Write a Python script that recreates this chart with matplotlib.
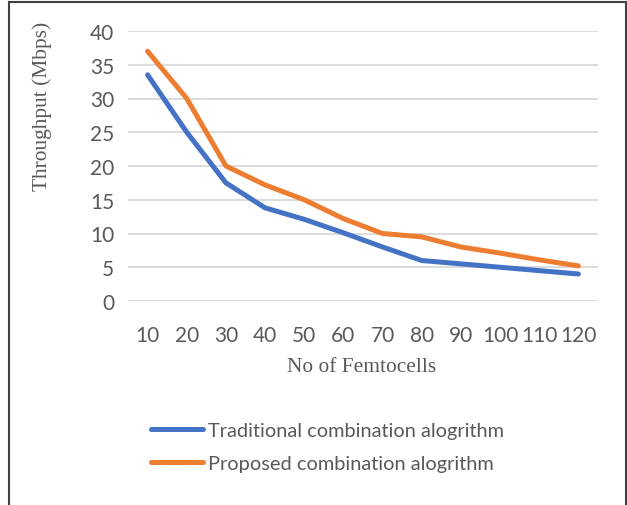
import matplotlib
matplotlib.use("Agg")
import matplotlib.pyplot as plt
from matplotlib.lines import Line2D

categories = ["10", "20", "30", "40", "50", "60", "70", "80", "90", "100", "110", "120"]
traditional = [33.5, 25, 17.5, 13.8, 12.1, 10.1, 8.0, 6.0, 5.5, 5.0, 4.5, 4.0]
proposed = [37.0, 30.0, 20.0, 17.2, 15.0, 12.2, 10.0, 9.5, 8.0, 7.1, 6.1, 5.2]
yticks = [0, 5, 10, 15, 20, 25, 30, 35, 40]
series_names = ["Traditional combination alogrithm", "Proposed combination alogrithm"]

W, H = 627, 506
fig = plt.figure(figsize=(W / 100, H / 100), dpi=100)
ax = fig.add_axes([128 / W, 1 - 302 / H, (598 - 128) / W, (302 - 32) / H])

x = list(range(len(categories)))
blue = "#4472C4"
orange = "#ED7D31"
ax.plot(x, traditional, color=blue, lw=3.6, solid_capstyle="round", solid_joinstyle="round", zorder=3)
ax.plot(x, proposed, color=orange, lw=3.6, solid_capstyle="round", solid_joinstyle="round", zorder=3)

ax.set_xlim(-0.5, len(categories) - 0.5)
ax.set_ylim(0, 40)
ax.set_yticks(yticks)
ax.set_xticks(x)
ax.set_xticklabels(categories)
ax.grid(axis="y", color="#D9D9D9", lw=1.3)
ax.set_axisbelow(True)
for s in ax.spines.values():
    s.set_visible(False)
ax.tick_params(length=0, labelsize=15, labelcolor="#595959")
for lab in ax.get_xticklabels() + ax.get_yticklabels():
    lab.set_family("Lato")
ax.tick_params(axis="x", pad=17)
ax.tick_params(axis="y", pad=10)

fig.text(362 / W, 1 - 368 / H, "No of Femtocells", family="Liberation Serif", fontsize=15.4,
         color="#595959", ha="center", va="center")
fig.text(42 / W, 1 - 106 / H, "Throughput (Mbps)", family="Liberation Serif", fontsize=15.4,
         color="#595959", ha="center", va="center", rotation=90)

handles = [Line2D([0], [0], color=blue, lw=3.6, solid_capstyle="round"),
           Line2D([0], [0], color=orange, lw=3.6, solid_capstyle="round")]
fig.legend(handles, series_names,
           loc="upper left", bbox_to_anchor=(143 / W, 1 - 415 / H), frameon=False,
           prop={"family": "Lato", "size": 14.4}, labelcolor="#595959",
           handlelength=2.6, handletextpad=0.25, labelspacing=0.78, borderaxespad=0)

# outer frame: left, top, right
fig.add_artist(Line2D([9 / W, 9 / W], [0, 1 - 3 / H], color="#404040", lw=1.5, transform=fig.transFigure))
fig.add_artist(Line2D([9 / W, 626 / W], [1 - 3 / H, 1 - 3 / H], color="#404040", lw=1.5, transform=fig.transFigure))
fig.add_artist(Line2D([626 / W, 626 / W], [0, 1 - 3 / H], color="#404040", lw=1.5, transform=fig.transFigure))

fig.savefig("out.png", dpi=100)
